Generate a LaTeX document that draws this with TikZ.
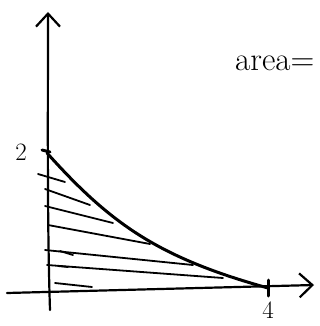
\documentclass[tikz,border=0pt]{standalone}
\usetikzlibrary{arrows.meta}

\begin{document}
\begin{tikzpicture}[
  x=1pt, y=-1pt,
  axis/.style={line width=2.2pt, line cap=round,
    -{Straight Barb[length=13pt,width=24pt,line width=2.2pt]}},
  curve/.style={line width=3pt, line cap=round},
  hatch/.style={line width=1.8pt, line cap=round},
  tick/.style={line width=3pt, line cap=round},
  label/.style={font=\fontsize{25}{28}\selectfont, inner sep=0pt},
  note/.style={font=\fontsize{33}{36}\selectfont, inner sep=0pt, anchor=west},
]
\useasboundingbox (0,0) rectangle (320,326);

% ---- axes -----------------------------------------------------------------
\coordinate (ybot) at (50,310);
\coordinate (ytop) at (48,12);
\coordinate (xlft) at (7,293);
\coordinate (xrgt) at (314,285);
\draw[axis] (ybot) .. controls (47,220) and (48,100) .. (ytop);
\draw[axis] (xlft) -- (xrgt);

% ---- intercepts -------------------------------------------------------------
\coordinate (yint) at (47,153);
\coordinate (xint) at (268,288);
\draw[tick] (42,150) -- (50,152);
\draw[tick] (268,280) -- (268,296);
\node[label] (two)  at (21,152) {2};
\node[label, anchor=south] (four) at (268,319) {4};

% ---- the curve and its shaded region ----------------------------------------
\draw[curve] (yint) .. controls (110.5,223.7) and (158.2,257.6) .. (xint);
\foreach \xa/\ya/\xb/\yb in {38/174/65/182, 45/189/90/205, 45/206/113/223,
    48/225/150/244, 45/250/193/265, 60/251/73/255, 47/265/223/278,
    58/266/68/267, 55/283/92/287}
  \draw[hatch] (\xa,\ya) -- (\xb,\yb);

% ---- label ------------------------------------------------------------------
\node[note] (area) at (235,63) {area=};

\end{tikzpicture}
\end{document}
